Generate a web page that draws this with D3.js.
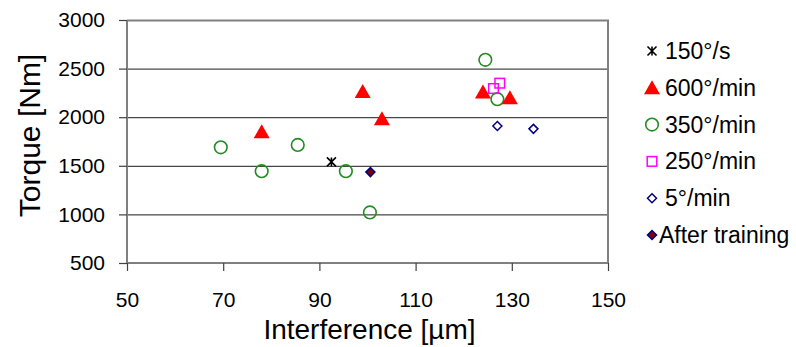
<!DOCTYPE html>
<html>
<head>
<meta charset="utf-8">
<script src="https://cdn.jsdelivr.net/npm/d3@7"></script>
<style>
  body { margin: 0; background: #fff; }
  text { font-family: "Liberation Sans", Arial, sans-serif; fill: #000; }
</style>
</head>
<body>
<svg width="796" height="347"></svg>
<script>
// data
var s150deg_s = [[92.5, 1540]];
var s600 = [[78, 1850], [99, 2265], [103, 1985], [124, 2260], [129.6, 2200]];
var s350 = [[69.5, 1690], [78, 1445], [85.5, 1715], [95.5, 1445], [100.5, 1020], [124.5, 2590], [127, 2185]];
var s250 = [[126.2, 2295], [127.5, 2350]];
var s5 = [[127, 1910], [134.5, 1880]];
var afterTraining = [[100.6, 1435]];
var xTicks = [50, 70, 90, 110, 130, 150];
var yTicks = [500, 1000, 1500, 2000, 2500, 3000];
var legendNames = ["150°/s", "600°/min", "350°/min", "250°/min", "5°/min", "After training"];

var svg = d3.select("svg");
var margin = {left: 127, top: 20, right: 188, bottom: 84};
var w = 796 - margin.left - margin.right, h = 347 - margin.top - margin.bottom;

var x = d3.scaleLinear().domain([50, 150]).range([0, w]);
var y = d3.scaleLinear().domain([500, 3000]).range([h, 0]);

var g = svg.append("g").attr("transform", "translate(" + margin.left + "," + margin.top + ")");

// gridlines
g.selectAll(".grid").data(yTicks.slice(1, -1)).enter().append("line")
  .attr("x1", 0).attr("x2", w)
  .attr("y1", function (d) { return y(d) + 0.5; }).attr("y2", function (d) { return y(d) + 0.5; })
  .attr("stroke", "#1a1a1a").attr("stroke-width", 1);

// frame top + right
g.append("path").attr("d", "M0," + (y(3000)+0.5) + "H" + w + "V" + h)
  .attr("fill", "none").attr("stroke", "#808080").attr("stroke-width", 2);

var xAxis = g.append("g").attr("transform", "translate(0," + h + ")")
  .call(d3.axisBottom(x).tickValues(xTicks).tickFormat(d3.format("d")).tickSize(8).tickPadding(21));
var yAxis = g.append("g")
  .call(d3.axisLeft(y).tickValues(yTicks).tickFormat(d3.format("d")).tickSize(8).tickPadding(14));
[xAxis, yAxis].forEach(function (a) {
  a.select(".domain").attr("stroke", "#808080").attr("stroke-width", 2);
  a.selectAll(".tick line").attr("stroke", "#404040").attr("stroke-width", 1.2);
  a.selectAll("text").style("font-family", "Liberation Sans, Arial, sans-serif").style("font-size", "21px").attr("fill", "#000");
});
yAxis.selectAll(".domain").attr("d", "M0,0V" + h);
xAxis.selectAll(".domain").attr("d", "M0,0H" + w);

// marker painters
function drawStar(sel, s) {
  sel.append("path").attr("d", "M" + -s + "," + -s + "L" + s + "," + s + "M" + s + "," + -s + "L" + -s + "," + s + "M0," + -s + "V" + s)
    .attr("stroke", "#000").attr("stroke-width", 1.6).attr("fill", "none");
}
function drawTri(sel) {
  sel.append("path").attr("d", "M0,-7.5L8,6.5L-8,6.5Z").attr("fill", "#ff0000");
}
function drawCirc(sel) {
  sel.append("circle").attr("r", 6.3).attr("fill", "none").attr("stroke", "#228b22").attr("stroke-width", 1.6);
}
function drawSq(sel) {
  sel.append("rect").attr("x", -4.8).attr("y", -4.8).attr("width", 9.6).attr("height", 9.6)
    .attr("fill", "none").attr("stroke", "#ff00ff").attr("stroke-width", 1.5);
}
function drawDia(sel) {
  sel.append("path").attr("d", "M0,-4.5L4.5,0L0,4.5L-4.5,0Z").attr("fill", "#fff").attr("stroke", "#000080").attr("stroke-width", 1.5);
}
function drawDiaFill(sel) {
  sel.append("path").attr("d", "M0,-4.5L4.5,0L0,4.5L-4.5,0Z").attr("fill", "#800000").attr("stroke", "#000080").attr("stroke-width", 1.5);
}

var series = [
  {data: s150deg_s, draw: function (s) { drawStar(s, 4.5); }},
  {data: s600, draw: drawTri},
  {data: s350, draw: drawCirc},
  {data: s250, draw: drawSq},
  {data: s5, draw: drawDia},
  {data: afterTraining, draw: drawDiaFill}
];

var drawOrder = [0, 2, 1, 3, 4, 5];
drawOrder.forEach(function (i) {
  var se = series[i];
  g.selectAll(null).data(se.data).enter().append("g")
    .attr("transform", function (d) { return "translate(" + x(d[0]) + "," + y(d[1]) + ")"; })
    .each(function () { se.draw(d3.select(this)); });
});

// legend
var lg = svg.append("g").attr("transform", "translate(652,51)");
legendNames.forEach(function (name, i) {
  var item = lg.append("g").attr("transform", "translate(0," + (i * 36.8) + ")");
  series[i].draw(item);
  item.append("text").attr("x", i == 5 ? 7 : 13).attr("y", 8).style("font-size", "23px").text(name);
});

// axis titles
svg.append("text").attr("x", margin.left + w / 2 + 2).attr("y", 339).attr("text-anchor", "middle")
  .style("font-size", "28px").text("Interference [µm]");
svg.append("text").attr("transform", "translate(40," + (margin.top + h / 2 - 6) + ") rotate(-90)")
  .attr("text-anchor", "middle").style("font-size", "30px").text("Torque [Nm]");
</script>
</body>
</html>
